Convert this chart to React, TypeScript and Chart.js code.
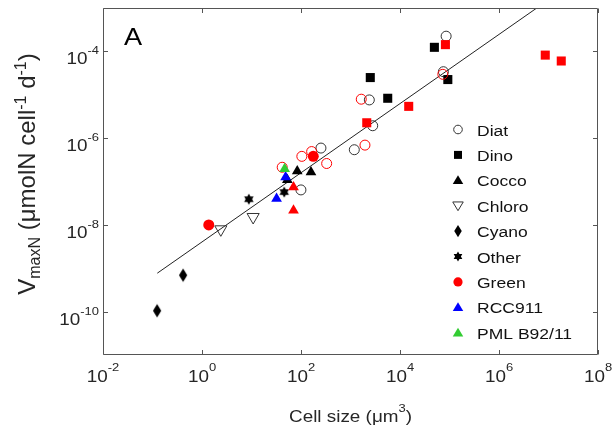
import React, { useEffect, useRef } from 'react';
import { Chart, registerables } from 'chart.js';

Chart.register(...registerables);

// ---- data (cell size in µm^3, VmaxN in µmolN cell^-1 d^-1) ----
const diatX = [99.7, 253, 1194, 2810, 2400, 75300, 85500];
const diatY = [6.4e-8, 5.9e-7, 5.4e-7, 1.93e-6, 7.6e-6, 3.4e-5, 2.24e-4];
const dinoX = [2510, 5650, 49500, 92500];
const dinoY = [2.49e-5, 8.3e-6, 1.24e-4, 2.24e-5];
const coccoX = [84, 159, 53];
const coccoY = [1.73e-7, 1.64e-7, 1.09e-7];
const chloroX = [2.4, 10.8];
const chloroY = [7.9e-9, 1.52e-8];
const cyanoX = [0.124, 0.415];
const cyanoY = [1.05e-10, 6.9e-10];
const otherX = [8.85, 45.8];
const otherY = [3.9e-8, 5.7e-8];
const greenOpenX = [41.7, 104, 164, 330, 1960, 1650, 73300];
const greenOpenY = [2.13e-7, 3.8e-7, 4.9e-7, 2.6e-7, 6.9e-7, 7.9e-6, 2.96e-5];
const redSquareX = [82700, 15000, 2130, 8.6e6, 1.81e7];
const redSquareY = [1.43e-4, 5.4e-6, 2.26e-6, 8.2e-5, 6.0e-5];
const redTriX = [70.6, 70.6];
const redTriY = [7.4e-8, 2.15e-8];
const greenX = [1.37, 177];
const greenY = [1.0e-8, 3.8e-7];
const rccX = [32.1, 48.9];
const rccY = [4.0e-8, 1.26e-7];
const pmlX = [46.7];
const pmlY = [1.95e-7];
const fitX = [0.125, 5.8e6];
const fitY = [7.7e-10, 1e-3];

const xTickExps = ['-2', '0', '2', '4', '6', '8'];
const yTickExps = ['-10', '-8', '-6', '-4'];
const legendLabels = ['Diat', 'Dino', 'Cocco', 'Chloro', 'Cyano', 'Other', 'Green', 'RCC911', 'PML B92/11'];
const xTitle = 'Cell size (μm';
const panelLabel = 'A';

const BLACK = '#000000';
const RED = '#ff0000';
const BLUE = '#0000ff';
const GREEN = '#33cc33';
const EDGE = '#333333';
const TXT = '#262626';
const FONT = '"Liberation Sans", Arial, Helvetica, sans-serif';
const SX = 1.18;

type Kind = 'circle' | 'square' | 'up' | 'down' | 'diamond' | 'hex';

function markerPath(ctx: CanvasRenderingContext2D, kind: Kind, x: number, y: number, s: number) {
  ctx.beginPath();
  if (kind === 'circle') {
    ctx.arc(x, y, s, 0, Math.PI * 2);
  } else if (kind === 'square') {
    ctx.rect(x - s, y - s, 2 * s, 2 * s);
  } else if (kind === 'up') {
    ctx.moveTo(x, y - s);
    ctx.lineTo(x + s * 1.05, y + s * 0.75);
    ctx.lineTo(x - s * 1.05, y + s * 0.75);
    ctx.closePath();
  } else if (kind === 'down') {
    ctx.moveTo(x, y + s);
    ctx.lineTo(x + s * 1.05, y - s * 0.75);
    ctx.lineTo(x - s * 1.05, y - s * 0.75);
    ctx.closePath();
  } else if (kind === 'diamond') {
    ctx.moveTo(x, y - s * 1.45);
    ctx.lineTo(x + s * 0.9, y);
    ctx.lineTo(x, y + s * 1.45);
    ctx.lineTo(x - s * 0.9, y);
    ctx.closePath();
  } else if (kind === 'hex') {
    const R = s;
    const r = s * 0.58;
    for (let i = 0; i < 12; i++) {
      const a = -Math.PI / 2 + (i * Math.PI) / 6;
      const rr = i % 2 === 0 ? R : r;
      const px = x + Math.cos(a) * rr;
      const py = y + Math.sin(a) * rr;
      if (i === 0) ctx.moveTo(px, py);
      else ctx.lineTo(px, py);
    }
    ctx.closePath();
  }
}

function drawMarker(ctx: CanvasRenderingContext2D, kind: Kind, x: number, y: number, s: number, color: string, filled: boolean) {
  ctx.save();
  markerPath(ctx, kind, x, y, s);
  if (filled) {
    ctx.fillStyle = color;
    ctx.fill();
  } else {
    ctx.strokeStyle = color;
    ctx.lineWidth = 1;
    ctx.stroke();
  }
  ctx.restore();
}

function makeStyle(kind: Kind, s: number, color: string, w: number, h: number) {
  const c = document.createElement('canvas');
  c.width = w;
  c.height = h;
  const ctx = c.getContext('2d')!;
  drawMarker(ctx, kind, w / 2, h / 2, s, color, true);
  return c;
}

function txtW(ctx: CanvasRenderingContext2D, t: string, size: number, sx: number = SX) {
  ctx.font = `${size}px ${FONT}`;
  return ctx.measureText(t).width * sx;
}

function drawTxt(ctx: CanvasRenderingContext2D, t: string, size: number, x: number, y: number, color: string, sx: number = SX) {
  ctx.save();
  ctx.font = `${size}px ${FONT}`;
  ctx.fillStyle = color;
  ctx.textAlign = 'left';
  ctx.textBaseline = 'alphabetic';
  ctx.translate(x, y);
  ctx.scale(sx, 1);
  ctx.fillText(t, 0, 0);
  ctx.restore();
}

const decor = {
  id: 'decor',
  afterDraw(chart: any) {
    const ctx: CanvasRenderingContext2D = chart.ctx;
    const ca = chart.chartArea;
    const xs = chart.scales.x;
    const ys = chart.scales.y;
    const L = Math.round(ca.left) + 0.5;
    const R = Math.round(ca.right) - 0.5;
    const T = Math.round(ca.top) + 0.5;
    const B = Math.round(ca.bottom) - 0.5;
    ctx.save();
    ctx.strokeStyle = '#555555';
    ctx.lineWidth = 1;
    ctx.beginPath();
    ctx.rect(L, T, R - L, B - T);
    ctx.stroke();
    const tl = 4.5;
    ctx.beginPath();
    xTickExps.forEach((e) => {
      const px = Math.round(xs.getPixelForValue(Math.pow(10, Number(e)))) + 0.5;
      ctx.moveTo(px, B);
      ctx.lineTo(px, B - tl);
      ctx.moveTo(px, T);
      ctx.lineTo(px, T + tl);
    });
    yTickExps.forEach((e) => {
      const py = Math.round(ys.getPixelForValue(Math.pow(10, Number(e)))) + 0.5;
      ctx.moveTo(L, py);
      ctx.lineTo(L + tl, py);
      ctx.moveTo(R, py);
      ctx.lineTo(R - tl, py);
    });
    ctx.stroke();
    ctx.restore();

    const BS = 16;
    const ES = 11;
    // x tick labels
    xTickExps.forEach((e) => {
      const px = xs.getPixelForValue(Math.pow(10, Number(e)));
      const w1 = txtW(ctx, '10', BS);
      const w2 = txtW(ctx, e, ES);
      const x0 = px - (w1 + w2) / 2;
      drawTxt(ctx, '10', BS, x0, ca.bottom + 27, TXT);
      drawTxt(ctx, e, ES, x0 + w1, ca.bottom + 16, TXT);
    });
    // y tick labels
    yTickExps.forEach((e) => {
      const py = ys.getPixelForValue(Math.pow(10, Number(e)));
      const w1 = txtW(ctx, '10', BS);
      const w2 = txtW(ctx, e, ES);
      const x1 = ca.left - 4;
      drawTxt(ctx, '10', BS, x1 - w2 - w1, py + 13, TXT);
      drawTxt(ctx, e, ES, x1 - w2, py + 3, TXT);
    });
    // x title
    {
      const w1 = txtW(ctx, xTitle, BS);
      const w2 = txtW(ctx, '3', ES);
      const w3 = txtW(ctx, ')', BS);
      const cx = (ca.left + ca.right) / 2;
      const x0 = cx - (w1 + w2 + w3) / 2;
      drawTxt(ctx, xTitle, BS, x0, 422, TXT);
      drawTxt(ctx, '3', ES, x0 + w1, 412, TXT);
      drawTxt(ctx, ')', BS, x0 + w1 + w2, 422, TXT);
    }
    // y title (rotated)
    {
      const M = 24;
      const S = 16;
      const parts: [string, number, number][] = [
        ['V', M, 0],
        ['maxN', S, 5],
        [' (μmolN cell', M, 0],
        ['-1', S, -9],
        [' d', M, 0],
        ['-1', S, -9],
        [')', M, 0],
      ];
      ctx.save();
      let W = 0;
      parts.forEach(([t, s]) => {
        ctx.font = `${s}px ${FONT}`;
        W += ctx.measureText(t).width;
      });
      ctx.translate(35, 174);
      ctx.rotate(-Math.PI / 2);
      ctx.fillStyle = TXT;
      ctx.textBaseline = 'alphabetic';
      let x = -W / 2;
      parts.forEach(([t, s, dy]) => {
        ctx.font = `${s}px ${FONT}`;
        ctx.fillText(t, x, dy);
        x += ctx.measureText(t).width;
      });
      ctx.restore();
    }
    // panel label
    drawTxt(ctx, panelLabel, 23, ca.left + 21, ca.top + 37, '#000000');

    // legend
    const lx = 458;
    const tx = 477;
    const y0 = 129.5;
    const dy = 25.4;
    const legendMarks: [Kind, number, string, boolean][] = [
      ['circle', 4.3, EDGE, false],
      ['square', 4, BLACK, true],
      ['up', 5, BLACK, true],
      ['down', 5, EDGE, false],
      ['diamond', 4.2, BLACK, true],
      ['hex', 5, BLACK, true],
      ['circle', 4.6, RED, true],
      ['up', 5, BLUE, true],
      ['up', 5, GREEN, true],
    ];
    legendLabels.forEach((lab, i) => {
      const y = y0 + i * dy;
      const [k, s, c, f] = legendMarks[i];
      drawMarker(ctx, k, lx, y, s, c, f);
      drawTxt(ctx, lab, 15.5, tx, y + 6, '#111111', 1.13);
    });
  },
};

function pts(xs: number[], ys: number[]) {
  return xs.map((x, i) => ({ x, y: ys[i] }));
}

export default function App() {
  const ref = useRef<HTMLCanvasElement>(null);
  useEffect(() => {
    const canvas = ref.current;
    if (!canvas) return;
    const diamond = makeStyle('diamond', 4.6, BLACK, 14, 18);
    const hex = makeStyle('hex', 5.5, BLACK, 14, 14);
    const sets: any[] = [
      { label: 'fit', type: 'line', data: pts(fitX, fitY), borderColor: '#222222', borderWidth: 1, pointRadius: 0, showLine: true, fill: false },
      { label: 'Diat', data: pts(diatX, diatY), pointStyle: 'circle', pointRadius: 5, backgroundColor: 'rgba(0,0,0,0)', borderColor: EDGE, borderWidth: 1 },
      { label: 'Dino', data: pts(dinoX, dinoY), pointStyle: 'rect', pointRadius: 6.4, backgroundColor: BLACK, borderColor: BLACK, borderWidth: 0 },
      { label: 'Cocco', data: pts(coccoX, coccoY), pointStyle: 'triangle', pointRadius: 6.2, backgroundColor: BLACK, borderColor: BLACK, borderWidth: 0 },
      { label: 'Chloro', data: pts(chloroX, chloroY), pointStyle: 'triangle', rotation: 180, pointRadius: 7, backgroundColor: 'rgba(0,0,0,0)', borderColor: EDGE, borderWidth: 1 },
      { label: 'Cyano', data: pts(cyanoX, cyanoY), pointStyle: diamond, pointRadius: 6 },
      { label: 'Other', data: pts(otherX, otherY), pointStyle: hex, pointRadius: 6 },
      { label: 'Green open', data: pts(greenOpenX, greenOpenY), pointStyle: 'circle', pointRadius: 5, backgroundColor: 'rgba(0,0,0,0)', borderColor: RED, borderWidth: 1 },
      { label: 'Red squares', data: pts(redSquareX, redSquareY), pointStyle: 'rect', pointRadius: 6.4, backgroundColor: RED, borderColor: RED, borderWidth: 0 },
      { label: 'Red triangles', data: pts(redTriX, redTriY), pointStyle: 'triangle', pointRadius: 6.2, backgroundColor: RED, borderColor: RED, borderWidth: 0 },
      { label: 'Green', data: pts(greenX, greenY), pointStyle: 'circle', pointRadius: 5.5, backgroundColor: RED, borderColor: RED, borderWidth: 0 },
      { label: 'RCC911', data: pts(rccX, rccY), pointStyle: 'triangle', pointRadius: 6.2, backgroundColor: BLUE, borderColor: BLUE, borderWidth: 0 },
      { label: 'PML B92/11', data: pts(pmlX, pmlY), pointStyle: 'triangle', pointRadius: 6.2, backgroundColor: GREEN, borderColor: GREEN, borderWidth: 0 },
    ];
    sets.forEach((s, i) => {
      s.order = sets.length - i;
      s.pointHoverRadius = s.pointRadius;
    });
    const chart = new Chart(canvas, {
      type: 'scatter',
      data: { datasets: sets },
      options: {
        animation: false,
        responsive: true,
        maintainAspectRatio: false,
        events: [],
        layout: { padding: { left: 103, right: 17, top: 8, bottom: 78 } },
        scales: {
          x: { type: 'logarithmic', min: 1e-2, max: 1e8, display: false },
          y: { type: 'logarithmic', min: 1e-11, max: 1e-3, display: false },
        },
        plugins: { legend: { display: false }, tooltip: { enabled: false } },
      },
      plugins: [decor],
    });
    return () => chart.destroy();
  }, []);
  return (
    <div style={{ position: 'absolute', left: 0, top: 0, width: 615, height: 433, background: '#ffffff' }}>
      <canvas ref={ref} />
    </div>
  );
}
